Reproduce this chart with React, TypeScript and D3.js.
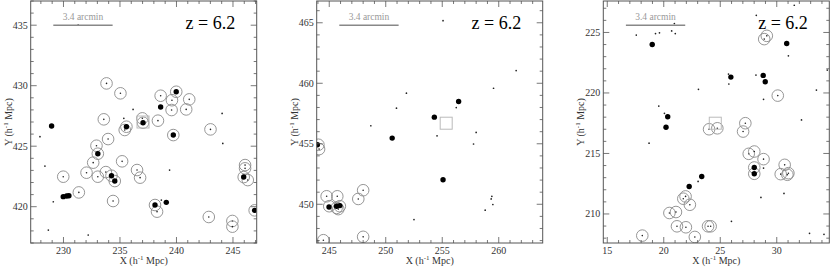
import * as d3 from "d3";

type P = [number, number];

const zLabel = "z = 6.2";
const barLabel = "3.4 arcmin";
const barLength = 5.25; // h^-1 Mpc

// panel 1
const p1X: P = [227.1, 247.1];
const p1Y: P = [417.0, 437.0];
const p1XTicks = [230, 235, 240, 245];
const p1YTicks = [420, 425, 430, 435];
const p1Circles: P[] = [
  [233.81, 430.19], [235.04, 429.37], [238.6, 429.17], [239.6, 428.8], [241.13, 428.87],
  [239.57, 427.99], [240.86, 428.04], [233.57, 427.22], [238.36, 427.11], [235.42, 426.34],
  [236.98, 427.3], [233.95, 425.59], [243.01, 426.39], [232.92, 425.04], [232.63, 423.64],
  [235.19, 423.75], [232.04, 422.81], [229.98, 422.48], [233.04, 422.48], [233.75, 422.86],
  [236.51, 423.03], [236.78, 422.4], [231.36, 421.18], [234.39, 420.47], [238.28, 419.59],
  [242.86, 419.15], [244.95, 418.82], [244.95, 418.35], [246.07, 423.44], [246.07, 423.17],
  [246.31, 422.2],
  [239.98, 429.5], [235.57, 426.61], [237.04, 426.94], [239.72, 425.92], [233.04, 424.38],
  [234.25, 422.56], [234.54, 422.12], [238.1, 420.14], [245.95, 422.45], [246.92, 419.7],
];
const p1Filled: P[] = [
  [239.98, 429.5], [235.57, 426.61], [237.04, 426.94], [239.72, 425.92], [233.04, 424.38],
  [234.25, 422.56], [234.54, 422.12], [238.1, 420.14], [245.95, 422.45], [246.92, 419.7],
  [228.95, 426.67], [229.98, 420.83], [230.28, 420.88], [230.48, 420.91], [238.6, 428.24],
  [239.1, 420.36],
];
const p1Dots: P[] = [
  [231.3, 435.01], [227.92, 425.79], [228.36, 423.36], [229.1, 420.41], [228.66, 418.07],
  [232.19, 417.66], [236.16, 428.04], [235.34, 427.3], [244.04, 427.71], [244.1, 425.23],
  [239.39, 423.03], [238.66, 420.55],
];
const p1Box: P = [237.04, 427.0];

// panel 2
const p2X: P = [243.89, 263.89];
const p2Y: P = [446.8, 466.8];
const p2XTicks = [245, 250, 255, 260];
const p2YTicks = [450, 455, 460, 465];
const p2Circles: P[] = [
  [244.04, 454.92], [244.1, 454.56], [244.77, 450.66], [245.71, 450.66], [247.57, 450.44],
  [248.0, 451.16], [245.0, 449.84], [245.65, 449.7], [245.94, 449.84], [245.8, 449.6],
  [244.48, 447.03], [248.0, 447.31],
];
const p2Filled: P[] = [
  [243.95, 454.92], [250.57, 455.47], [254.3, 457.2], [256.45, 458.49], [255.07, 452.03],
  [244.98, 449.78], [245.65, 449.84], [245.94, 449.89],
];
const p2Dots: P[] = [
  [255.07, 465.17], [261.54, 461.05], [259.54, 459.59], [251.83, 459.18], [250.95, 457.94],
  [256.24, 457.99], [248.68, 456.49], [258.0, 455.94], [254.54, 455.66], [257.77, 454.98],
  [259.39, 450.66], [259.33, 450.44], [259.48, 449.98], [258.8, 449.51], [252.5, 448.74],
];
const p2Box: P = [255.35, 456.7];

// panel 3
const p3X: P = [14.65, 34.65];
const p3Y: P = [207.6, 227.6];
const p3XTicks = [15, 20, 25, 30];
const p3YTicks = [210, 215, 220, 225];
const p3Circles: P[] = [
  [29.12, 224.72], [28.89, 224.45], [30.09, 219.78], [24.01, 217.0], [24.74, 217.08],
  [27.22, 217.5], [27.02, 216.81], [27.52, 214.97], [28.01, 215.16], [28.83, 214.53],
  [30.7, 214.06], [30.35, 213.29], [30.94, 213.24], [31.03, 213.37], [28.01, 213.84],
  [28.01, 213.32], [21.93, 211.45], [21.73, 211.26], [22.31, 210.76], [20.5, 210.08],
  [21.08, 210.16], [21.17, 208.98], [21.96, 208.9], [23.92, 208.98], [24.15, 208.98],
  [22.75, 208.1], [18.1, 208.21],
];
const p3Filled: P[] = [
  [18.98, 224.01], [20.35, 218.04], [20.2, 217.17], [25.94, 221.31], [28.8, 221.45],
  [28.98, 220.93], [30.88, 224.09], [23.36, 213.1], [22.25, 212.27], [28.01, 213.84],
  [28.01, 213.32],
];
const p3Dots: P[] = [
  [17.57, 224.78], [19.27, 224.91], [19.62, 224.97], [20.7, 225.13], [21.02, 224.91],
  [20.94, 225.74], [28.19, 226.42], [31.55, 227.25], [31.03, 223.07], [34.47, 221.89],
  [33.51, 220.24], [23.07, 220.3], [25.73, 221.56], [25.76, 220.74], [28.16, 221.48],
  [28.83, 219.47], [19.56, 218.92], [20.06, 218.32], [32.19, 217.77], [18.7, 215.85],
  [23.04, 212.69], [28.83, 213.79], [30.64, 211.7], [28.6, 211.37], [25.99, 209.39],
  [32.9, 208.4], [34.18, 208.32],
];
const p3Box: P = [24.56, 217.5];

const panels = [
  { x: p1X, y: p1Y, xt: p1XTicks, yt: p1YTicks, circles: p1Circles, filled: p1Filled, dots: p1Dots, box: p1Box },
  { x: p2X, y: p2Y, xt: p2XTicks, yt: p2YTicks, circles: p2Circles, filled: p2Filled, dots: p2Dots, box: p2Box },
  { x: p3X, y: p3Y, xt: p3XTicks, yt: p3YTicks, circles: p3Circles, filled: p3Filled, dots: p3Dots, box: p3Box },
];

const lefts = [30.7, 316.7, 603.3];
const top = 1;
const W = 226;
const H = 242;
const font = "'Liberation Serif', 'DejaVu Serif', serif";
const axisColor = "#555";

function Panel({ p, left }: { p: typeof panels[number]; left: number }) {
  const xs = d3.scaleLinear().domain(p.x).range([0, W]);
  const ys = d3.scaleLinear().domain(p.y).range([H, 0]);
  const minorX = d3.range(Math.ceil(p.x[0]), Math.floor(p.x[1]) + 1);
  const minorY = d3.range(Math.ceil(p.y[0]), Math.floor(p.y[1]) + 1);
  const bx0 = xs(p.x[0] + 2);
  const bx1 = xs(p.x[0] + 2 + barLength);
  const by = ys(p.y[1] - 2);

  return (
    <g transform={`translate(${left},${top})`} fontFamily={font}>
      <defs>
        <clipPath id={`clip${left}`}>
          <rect x={0} y={0} width={W} height={H} />
        </clipPath>
      </defs>
      <g clipPath={`url(#clip${left})`}>
        {p.circles.map((d, i) => (
          <g key={"c" + i}>
            <circle cx={xs(d[0])} cy={ys(d[1])} r={5.8} fill="none" stroke="#8a8a8a" strokeWidth={0.9} />
            <circle cx={xs(d[0])} cy={ys(d[1])} r={0.8} fill="#222" />
          </g>
        ))}
        {p.filled.map((d, i) => (
          <circle key={"f" + i} cx={xs(d[0])} cy={ys(d[1])} r={2.7} fill="#000" />
        ))}
        {p.dots.map((d, i) => (
          <circle key={"d" + i} cx={xs(d[0])} cy={ys(d[1])} r={0.85} fill="#222" />
        ))}
      </g>
      <rect x={xs(p.box[0]) - 6} y={ys(p.box[1]) - 6} width={12} height={12} fill="none" stroke="#bbb" strokeWidth={1} />
      <line x1={bx0} x2={bx1} y1={by} y2={by} stroke="#888" strokeWidth={1.6} />
      <text x={(bx0 + bx1) / 2} y={by - 5} fontSize={9.5} fill="#999" textAnchor="middle">{barLabel}</text>
      <text x={W - 21.5} y={27.5} fontSize={18} fill="#000" textAnchor="end">{zLabel}</text>
      <rect x={0} y={0} width={W} height={H} fill="none" stroke={axisColor} strokeWidth={1} />
      {minorX.map((v) => {
        const len = v % 5 === 0 ? 6 : 3;
        return (
          <g key={"tx" + v}>
            <line x1={xs(v)} x2={xs(v)} y1={H} y2={H - len} stroke={axisColor} strokeWidth={0.8} />
            <line x1={xs(v)} x2={xs(v)} y1={0} y2={len} stroke={axisColor} strokeWidth={0.8} />
          </g>
        );
      })}
      {minorY.map((v) => {
        const len = v % 5 === 0 ? 6 : 3;
        return (
          <g key={"ty" + v}>
            <line x1={0} x2={len} y1={ys(v)} y2={ys(v)} stroke={axisColor} strokeWidth={0.8} />
            <line x1={W} x2={W - len} y1={ys(v)} y2={ys(v)} stroke={axisColor} strokeWidth={0.8} />
          </g>
        );
      })}
      {p.xt.map((v) => (
        <text key={"lx" + v} x={xs(v)} y={H + 11} fontSize={10} fill="#333" textAnchor="middle">{v}</text>
      ))}
      {p.yt.map((v) => (
        <text key={"ly" + v} x={-3} y={ys(v) + 3.5} fontSize={10} fill="#333" textAnchor="end">{v}</text>
      ))}
      <text x={W / 2} y={H + 21} fontSize={10} fill="#333" textAnchor="middle">
        X (h<tspan dy={-4} fontSize={7}>-1</tspan><tspan dy={4}> Mpc)</tspan>
      </text>
      <text transform={`translate(-19,${H / 2}) rotate(-90)`} fontSize={10} fill="#333" textAnchor="middle">
        Y (h<tspan dy={-4} fontSize={7}>-1</tspan><tspan dy={4}> Mpc)</tspan>
      </text>
    </g>
  );
}

export default function App() {
  return (
    <svg width={830} height={267} style={{ position: "absolute", left: 0, top: 0, background: "#fff" }}>
      {panels.map((p, i) => (
        <Panel key={i} p={p} left={lefts[i]} />
      ))}
    </svg>
  );
}
